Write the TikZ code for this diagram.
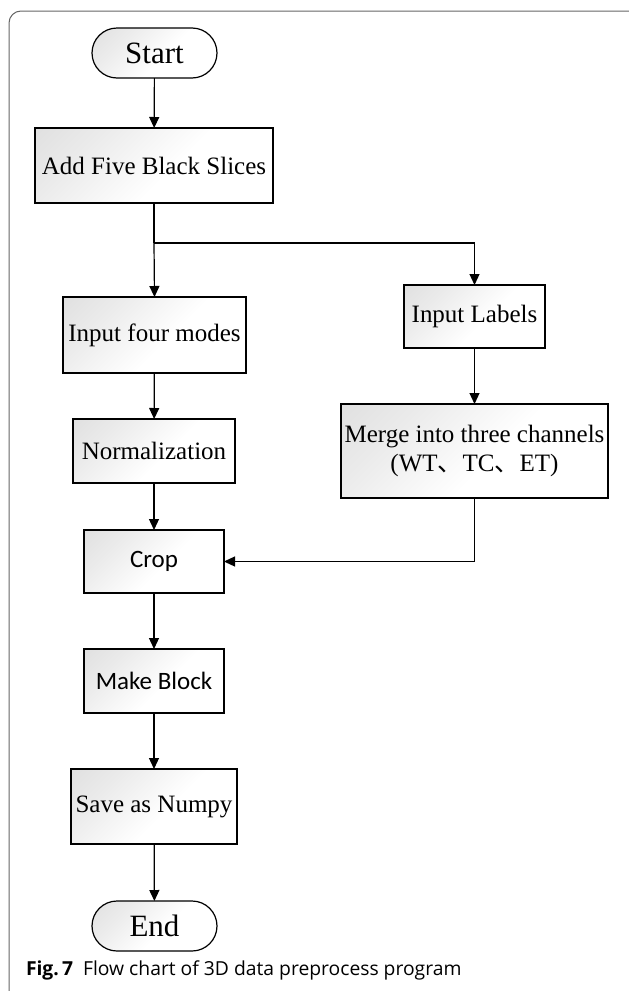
\documentclass[tikz,border=0pt]{standalone}
\usepackage{fontspec}
\setmainfont{Liberation Serif}
\newfontfamily\calib{Carlito}
\newfontfamily\capfont{Open Sans}
\newfontfamily\cjk{Noto Sans CJK SC}
\usetikzlibrary{arrows.meta,shapes.misc}
\pgfdeclarehorizontalshading{boxshade}{100bp}{color(0bp)=(black!16); color(30bp)=(black!8); color(55bp)=(white); color(100bp)=(white)}
\begin{document}
\begin{tikzpicture}[x=1pt,y=-1pt,
  every node/.style={inner sep=0pt,outer sep=0pt},
  boxstyle/.style={draw,line width=1.2pt,rectangle,shading=boxshade,shading angle=-45,font=\fontsize{25}{29}\selectfont,align=center},
  pill/.style={boxstyle,rounded rectangle,font=\fontsize{31}{35}\selectfont},
  sansbox/.style={boxstyle,font=\calib\fontsize{25}{29}\selectfont},
  link/.style={line width=1.2pt,-{Triangle[width=10pt,length=11pt]}},
  plain/.style={line width=1.2pt}]
\useasboundingbox (0,0) rectangle (629,991);
\draw[black!60,line width=1pt,rounded corners=12pt] (9,11) rectangle (650,1004);
\node[pill,minimum width=125pt,minimum height=50pt] (start) at (154.5,53) {Start};
\node[boxstyle,minimum width=238pt,minimum height=75pt] (add) at (154,165.5) {Add Five Black Slices};
\node[boxstyle,minimum width=183pt,minimum height=76pt] (four) at (154.5,335) {Input four modes};
\node[boxstyle,minimum width=141pt,minimum height=63pt] (labels) at (474.5,316.5) {Input Labels};
\node[boxstyle,minimum width=267pt,minimum height=94pt] (merge) at (474.5,451) {Merge into three channels\\(WT{\cjk 、}TC{\cjk 、}ET)};
\node[boxstyle,minimum width=162pt,minimum height=64pt] (norm) at (154,451) {Normalization};
\node[sansbox,minimum width=140pt,minimum height=63pt] (crop) at (154,561.5) {Crop};
\node[sansbox,minimum width=140pt,minimum height=64pt] (block) at (154,681) {Make Block};
\node[boxstyle,minimum width=166pt,minimum height=75pt] (save) at (154,806.5) {Save as Numpy};
\node[pill,minimum width=125pt,minimum height=50pt] (end) at (154.5,926) {End};
\coordinate (split) at (154,243);
\coordinate (turn) at (474.5,243);
\coordinate (corner) at (474.5,561.5);
\draw[link] (start) -- (add);
\draw[plain] (add.south) -- (split);
\draw[link] (split) -- (four.north);
\draw[link] (split) -- (turn) -- (labels.north);
\draw[link] (labels) -- (merge);
\draw[link] (four) -- (norm);
\draw[link] (norm) -- (crop);
\draw[link] (merge.south) -- (corner) -- (crop.east);
\draw[link] (crop) -- (block);
\draw[link] (block) -- (save);
\draw[link] (save) -- (end);
\node[anchor=base west,font=\capfont\fontsize{19.3}{23}\selectfont] (cap) at (26,975) {\textbf{Fig.\,7}\hspace{10pt}Flow chart of 3D data preprocess program};
\end{tikzpicture}
\end{document}
